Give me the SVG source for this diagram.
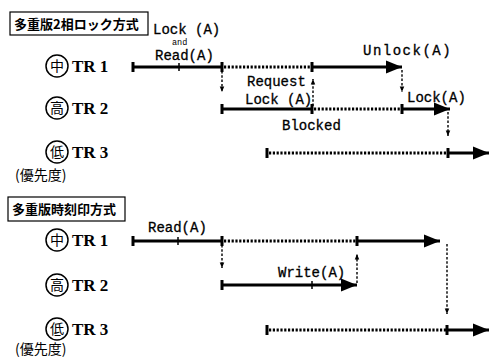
<svg xmlns="http://www.w3.org/2000/svg" width="490" height="359" viewBox="0 0 490 359">
<defs>
<style>
.bg{fill:#fff}
.solid{stroke:#000;stroke-width:3.2;fill:none}
.dot{stroke:#000;stroke-width:3;fill:none;stroke-dasharray:2.2 1.6}
.vd{stroke:#000;stroke-width:1.4;fill:none;stroke-dasharray:2.5 1.8}
.bar{stroke:#000;stroke-width:3;fill:none}
.tick{stroke:#000;stroke-width:1.5;fill:none}
.mono{font-family:"Liberation Mono","DejaVu Sans Mono",monospace;font-size:14px;fill:#000;stroke:#000;stroke-width:0.3}
.small{font-family:"Liberation Mono","DejaVu Sans Mono",monospace;font-size:8.5px;fill:#000}
.tr{font-family:"Liberation Serif","DejaVu Serif",serif;font-size:17px;font-weight:bold;fill:#000}
.kan{font-family:"Noto Sans CJK JP","Noto Sans CJK SC",sans-serif;font-size:14px;fill:#000}
.title{font-family:"Noto Sans CJK JP","Noto Sans CJK SC",sans-serif;font-size:13px;font-weight:bold;fill:#000}
.box{fill:none;stroke:#000;stroke-width:1.2}
.circ{fill:none;stroke:#000;stroke-width:1.5}
</style>
<marker id="ah" viewBox="0 0 10 10" refX="10" refY="5" markerWidth="5" markerHeight="5" orient="auto" markerUnits="strokeWidth">
<path d="M0,1 L10,5 L0,9 Z" fill="#000"/>
</marker>
<marker id="sh" viewBox="0 0 10 10" refX="10" refY="5" markerWidth="4" markerHeight="4" orient="auto" markerUnits="strokeWidth">
<path d="M0,1 L10,5 L0,9 Z" fill="#000"/>
</marker>
</defs>
<rect class="bg" x="0" y="0" width="490" height="359"/>

<!-- ===== Section 1: multiversion 2PL ===== -->
<g id="title1">
<rect class="box" x="10" y="12" width="138" height="23"/>
<text class="title" x="14" y="29">多重版2相ロック方式</text>
</g>

<g id="label-tr1-a">
<circle class="circ" cx="57" cy="66" r="11"/>
<text class="kan" x="57" y="71" text-anchor="middle">中</text>
<text class="tr" x="72" y="72">TR 1</text>
</g>
<g id="label-tr2-a">
<circle class="circ" cx="57" cy="108" r="11"/>
<text class="kan" x="57" y="113" text-anchor="middle">高</text>
<text class="tr" x="72" y="114">TR 2</text>
</g>
<g id="label-tr3-a">
<circle class="circ" cx="57" cy="152" r="11"/>
<text class="kan" x="57" y="157" text-anchor="middle">低</text>
<text class="tr" x="72" y="158">TR 3</text>
<text class="kan" x="15" y="180" font-size="12">(優先度)</text>
</g>

<g id="tr1-a">
<line class="solid" x1="133" y1="67" x2="222" y2="67"/>
<line class="bar" x1="133" y1="62" x2="133" y2="72"/>
<line class="tick" x1="179" y1="63" x2="179" y2="71"/>
<line class="bar" x1="222" y1="62" x2="222" y2="72"/>
<line class="dot" x1="224" y1="67" x2="311" y2="67"/>
<line class="bar" x1="312" y1="62" x2="312" y2="72"/>
<line class="solid" x1="312" y1="67" x2="402" y2="67" marker-end="url(#ah)"/>
</g>
<g id="tr2-a">
<line class="bar" x1="222" y1="104" x2="222" y2="114"/>
<line class="solid" x1="222" y1="109" x2="312" y2="109"/>
<line class="bar" x1="312" y1="104" x2="312" y2="114"/>
<line class="dot" x1="314" y1="109" x2="401" y2="109"/>
<line class="bar" x1="402" y1="104" x2="402" y2="114"/>
<line class="solid" x1="402" y1="109" x2="450" y2="109" marker-end="url(#ah)"/>
</g>
<g id="tr3-a">
<line class="bar" x1="267" y1="148" x2="267" y2="158"/>
<line class="dot" x1="269" y1="153" x2="447" y2="153"/>
<line class="bar" x1="448" y1="148" x2="448" y2="158"/>
<line class="solid" x1="448" y1="153" x2="489" y2="153" marker-end="url(#ah)"/>
</g>

<g id="labels-a">
<text class="mono" x="153" y="34">Lock (A)</text>
<text class="small" x="172" y="45">and</text>
<text class="mono" x="155" y="60">Read(A)</text>
<text class="mono" x="363" y="55" letter-spacing="1.5">Unlock(A)</text>
<text class="mono" x="247" y="86">Request</text>
<text class="mono" x="245" y="104">Lock (A)</text>
<text class="mono" x="407" y="102">Lock(A)</text>
<text class="mono" x="282" y="130">Blocked</text>
</g>

<!-- ===== Section 2: multiversion timestamp ===== -->
<g id="title2">
<rect class="box" x="8" y="197" width="117" height="24"/>
<text class="title" x="12" y="214">多重版時刻印方式</text>
</g>

<g id="label-tr1-b">
<circle class="circ" cx="57" cy="240" r="11"/>
<text class="kan" x="57" y="245" text-anchor="middle">中</text>
<text class="tr" x="72" y="246">TR 1</text>
</g>
<g id="label-tr2-b">
<circle class="circ" cx="57" cy="285" r="11"/>
<text class="kan" x="57" y="290" text-anchor="middle">高</text>
<text class="tr" x="72" y="291">TR 2</text>
</g>
<g id="label-tr3-b">
<circle class="circ" cx="57" cy="329" r="11"/>
<text class="kan" x="57" y="334" text-anchor="middle">低</text>
<text class="tr" x="72" y="335">TR 3</text>
<text class="kan" x="15" y="354" font-size="12">(優先度)</text>
</g>

<g id="tr1-b">
<line class="solid" x1="133" y1="241" x2="222" y2="241"/>
<line class="bar" x1="133" y1="236" x2="133" y2="246"/>
<line class="tick" x1="178" y1="237" x2="178" y2="245"/>
<line class="bar" x1="222" y1="236" x2="222" y2="246"/>
<line class="dot" x1="224" y1="241" x2="356" y2="241"/>
<line class="bar" x1="357" y1="236" x2="357" y2="246"/>
<line class="solid" x1="357" y1="241" x2="440" y2="241" marker-end="url(#ah)"/>
</g>
<g id="tr2-b">
<line class="bar" x1="222" y1="280" x2="222" y2="290"/>
<line class="solid" x1="222" y1="285" x2="357" y2="285" marker-end="url(#ah)"/>
<line class="tick" x1="312" y1="281" x2="312" y2="289"/>
</g>
<g id="tr3-b">
<line class="bar" x1="267" y1="325" x2="267" y2="335"/>
<line class="dot" x1="269" y1="330" x2="446" y2="330"/>
<line class="bar" x1="447" y1="325" x2="447" y2="335"/>
<line class="solid" x1="447" y1="330" x2="489" y2="330" marker-end="url(#ah)"/>
</g>

<g id="labels-b">
<text class="mono" x="148" y="232">Read(A)</text>
<text class="mono" x="278" y="277">Write(A)</text>
</g>

<!-- ===== connectors ===== -->
<g id="connectors">
<line class="vd" x1="222" y1="71" x2="222" y2="92" marker-end="url(#sh)"/>
<line class="vd" x1="313" y1="106" x2="313" y2="79" marker-end="url(#sh)"/>
<line class="vd" x1="402" y1="70" x2="402" y2="92" marker-end="url(#sh)"/>
<line class="vd" x1="448" y1="112" x2="448" y2="136" marker-end="url(#sh)"/>
<line class="vd" x1="222" y1="245" x2="222" y2="268" marker-end="url(#sh)"/>
<line class="vd" x1="357" y1="283" x2="357" y2="254" marker-end="url(#sh)"/>
<line class="vd" x1="447" y1="244" x2="447" y2="314" marker-end="url(#sh)"/>
</g>
</svg>
